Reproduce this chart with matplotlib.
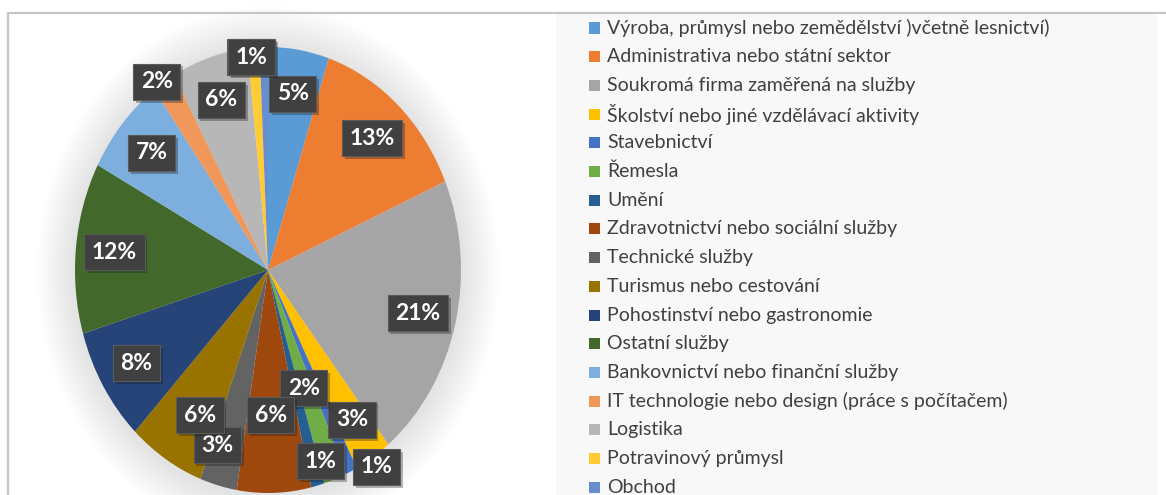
import numpy as np
import matplotlib.pyplot as plt
from matplotlib.patches import Rectangle, Ellipse
from matplotlib import patheffects

W, H = 1166, 495

categories = [
    "Výroba, průmysl nebo zemědělství )včetně lesnictví)",
    "Administrativa nebo státní sektor",
    "Soukromá firma zaměřená na služby",
    "Školství nebo jiné vzdělávací aktivity",
    "Stavebnictví",
    "Řemesla",
    "Umění",
    "Zdravotnictví nebo sociální služby",
    "Technické služby",
    "Turismus nebo cestování",
    "Pohostinství nebo gastronomie",
    "Ostatní služby",
    "Bankovnictví nebo finanční služby",
    "IT technologie nebo design (práce s počítačem)",
    "Logistika",
    "Potravinový průmysl",
    "Obchod",
]
shares = [5.1, 13.4, 20.8, 3.1, 1.0, 1.9, 1.1, 6.2, 3.1, 6.4,
          8.3, 12.4, 7.2, 1.9, 6.4, 1.0, 0.7]
colors = ["#5b9bd5", "#ed7d31", "#a5a5a5", "#ffc000", "#4472c4", "#70ad47",
          "#255e91", "#9e480e", "#636363", "#997300", "#264478", "#43682b",
          "#7cafdd", "#f1975a", "#b7b7b7", "#ffcd33", "#698ed0"]

# nudges (pixels, right / down) for labels that Excel moved off the crowded slices
label_nudge = {4: (42, 36), 5: (-18, -49), 6: (13, 19), 7: (-2, -33),
               8: (-11, 3), 9: (14, -6), 13: (-28, -38), 15: (-5, -35),
               16: (-14, -35)}

plt.rcParams['font.family'] = ['Lato', 'DejaVu Sans']

fig = plt.figure(figsize=(W / 100, H / 100), dpi=100)
fig.patch.set_facecolor('white')

# chart frame and legend panel
fig.patches.append(Rectangle((556 / W, -0.1), 601 / W, 1 - 14 / H + 0.1,
                             transform=fig.transFigure, fc='#f8f8f8', ec='none'))
fig.patches.append(Rectangle((7.5 / W, -0.1), 1.2, 1 - 13 / H + 0.1,
                             transform=fig.transFigure, fill=False,
                             ec='#c6c6c6', lw=1.6))

# pie (stretched like the source image)
ax = fig.add_axes([75 / W, 2 / H, 386 / W, 446 / H])
for k in range(14):
    r = 1.0 + 0.014 * (k + 1)
    ax.add_patch(Ellipse((0.0, -0.01), 2 * r, 2 * r, fc='#000000',
                         alpha=0.006, ec='none', clip_on=False, zorder=0))
wedges, _ = ax.pie(shares, colors=colors, startangle=90, counterclock=False,
                   radius=1, wedgeprops=dict(linewidth=0, zorder=1))
ax.set_aspect('auto')
ax.set_xlim(-1, 1)
ax.set_ylim(-1, 1)
ax.axis('off')

total = sum(shares)
order = [16] + list(range(16))
for i in order:
    w = wedges[i]
    mid = np.deg2rad((w.theta1 + w.theta2) / 2)
    x, y = 0.8 * np.cos(mid), 0.8 * np.sin(mid)
    dx, dy = label_nudge.get(i, (0, 0))
    t = ax.annotate(f"{shares[i] / total * 100:.0f}%", xy=(x, y),
                    xytext=(dx, -dy), textcoords='offset pixels',
                    ha='center', va='center', color='white',
                    fontsize=16.5, fontweight='bold', zorder=5,
                    annotation_clip=False,
                    bbox=dict(boxstyle='square,pad=0.33', fc='#404040',
                              ec='#5a5a5a', lw=0.8))
    t.get_bbox_patch().set_path_effects(
        [patheffects.SimplePatchShadow(offset=(2, -2), alpha=0.3),
         patheffects.Normal()])

# legend drawn row by row
for i, (cat, col) in enumerate(zip(categories, colors)):
    yc = 28 + 28.7 * i
    fig.patches.append(Rectangle((589 / W, 1 - (yc + 5.5) / H), 11 / W, 11 / H,
                                 transform=fig.transFigure, fc=col, ec='none'))
    fig.text(607 / W, 1 - yc / H, cat, ha='left', va='center',
             fontsize=14, color='#404040')

fig.savefig('out.png', dpi=100)
